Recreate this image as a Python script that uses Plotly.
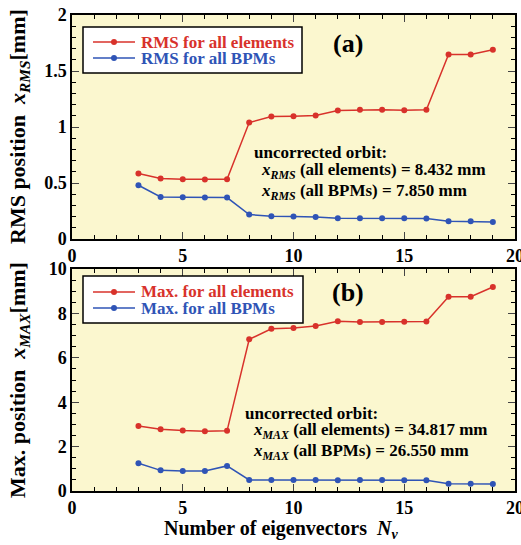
import plotly.graph_objects as go
from plotly.subplots import make_subplots

nv = [3, 4, 5, 6, 7, 8, 9, 10, 11, 12, 13, 14, 15, 16, 17, 18, 19]
rms_elements = [0.584, 0.540, 0.534, 0.532, 0.534, 1.040, 1.094, 1.097, 1.103, 1.148, 1.153, 1.153, 1.150, 1.153, 1.648, 1.648, 1.690]
rms_bpms = [0.480, 0.376, 0.373, 0.370, 0.370, 0.218, 0.203, 0.200, 0.197, 0.185, 0.185, 0.185, 0.185, 0.182, 0.158, 0.158, 0.152]
max_elements = [2.93, 2.78, 2.72, 2.69, 2.71, 6.83, 7.31, 7.34, 7.43, 7.65, 7.61, 7.61, 7.62, 7.64, 8.75, 8.75, 9.19]
max_bpms = [1.25, 0.93, 0.90, 0.90, 1.13, 0.50, 0.50, 0.50, 0.50, 0.48, 0.50, 0.50, 0.48, 0.48, 0.33, 0.33, 0.32]
legend_a = ["RMS for all elements", "RMS for all BPMs"]
legend_b = ["Max. for all elements", "Max. for all BPMs"]

RED = "#d8322b"
BLUE = "#2f54b6"
BG = "#fbf7cf"
FONT = "Times New Roman, Liberation Serif, serif"

fig = make_subplots(rows=2, cols=1, vertical_spacing=0.0)

def add(x, y, name, color, row):
    fig.add_trace(go.Scatter(
        x=x, y=y, mode="lines+markers", name=name, showlegend=False,
        line=dict(color=color, width=1.5),
        marker=dict(color=color, size=6)), row=row, col=1)

add(nv, rms_elements, legend_a[0], RED, 1)
add(nv, rms_bpms, legend_a[1], BLUE, 1)
add(nv, max_elements, legend_b[0], RED, 2)
add(nv, max_bpms, legend_b[1], BLUE, 2)

H_TOP, H_BOT = 15, 54
PH = 545 - H_TOP - H_BOT
PL, PR = 72, 515
def yp(px):
    return (491 - px) / PH
def xp(px):
    return (px - PL) / (PR - PL)

tickfont = dict(family=FONT, size=18, color="black", weight="bold")
common_x = dict(range=[0, 20], dtick=5, tick0=0, ticks="inside", ticklen=7, tickwidth=1.2,
                showline=True, linecolor="black", linewidth=1.5, mirror="ticks",
                showgrid=False, zeroline=False, tickfont=tickfont, ticklabeloverflow="allow",
                automargin=False,
                minor=dict(dtick=1, ticks="inside", ticklen=4, tickwidth=1, tickcolor="black"))
fig.update_xaxes(**common_x)
fig.update_yaxes(ticks="inside", ticklen=7, tickwidth=1.2, showline=True, linecolor="black",
                 linewidth=1.5, mirror="ticks", showgrid=False, zeroline=False, tickfont=tickfont,
                 automargin=False)

fig.update_yaxes(range=[0, 2], dtick=0.5, domain=[yp(239), 1],
                 minor=dict(dtick=0.1, ticks="inside", ticklen=4, tickwidth=1, tickcolor="black"),
                 row=1, col=1)
fig.update_yaxes(range=[0, 10], dtick=2, domain=[0, yp(269)],
                 minor=dict(dtick=0.5, ticks="inside", ticklen=4, tickwidth=1, tickcolor="black"),
                 row=2, col=1)

fig.update_layout(
    width=521, height=545,
    margin=dict(l=PL, r=521 - PR, t=H_TOP, b=H_BOT),
    paper_bgcolor="white", plot_bgcolor=BG,
    showlegend=False,
)

# manual legends (compact like the reference)
legfont = dict(family=FONT, size=17, weight="bold")
def legend_box(x0, y0, x1, y1, names, rows_y):
    fig.add_shape(type="rect", xref="paper", yref="paper", x0=xp(x0), x1=xp(x1),
                  y0=yp(y1), y1=yp(y0), fillcolor="white", line=dict(color="black", width=1.5),
                  layer="above")
    for name, color, py in zip(names, [RED, BLUE], rows_y):
        fig.add_shape(type="line", xref="paper", yref="paper", x0=xp(93), x1=xp(135),
                      y0=yp(py), y1=yp(py), line=dict(color=color, width=1.5), layer="above")
        fig.add_shape(type="circle", xref="paper", yref="paper", xsizemode="pixel",
                      ysizemode="pixel", xanchor=xp(114), yanchor=yp(py), x0=-3, x1=3,
                      y0=-3, y1=3, fillcolor=color, line=dict(color=color, width=0),
                      layer="above")
        fig.add_annotation(text=f"<b>{name}</b>", x=xp(139), y=yp(py), xref="paper",
                           yref="paper", xanchor="left", yanchor="middle", showarrow=False,
                           font=dict(color=color, **legfont))

legend_box(83, 27, 302, 73, legend_a, [42, 58])
legend_box(83, 276, 303, 323, legend_b, [292, 308])

annfont = dict(family=FONT, size=17, color="black", weight="bold")
bigfont = dict(family=FONT, size=26, color="black", weight="bold")
titlefont = dict(family=FONT, size=22, color="black", weight="bold")
anns = [
    ("<b>(a)</b>", 348, 43, "center", bigfont, 0),
    ("<b>(b)</b>", 348, 293, "center", bigfont, 0),
    ("<b>uncorrected orbit:</b>", 252, 152, "left", annfont, 0),
    ("<b><i>x<sub>RMS</sub></i> (all elements) = 8.432 mm</b>", 259, 171, "left", annfont, 0),
    ("<b><i>x<sub>RMS</sub></i> (all BPMs) = 7.850 mm</b>", 259, 192, "left", annfont, 0),
    ("<b>uncorrected orbit:</b>", 243, 413, "left", annfont, 0),
    ("<b><i>x<sub>MAX</sub></i> (all elements) = 34.817 mm</b>", 251, 431, "left", annfont, 0),
    ("<b><i>x<sub>MAX</sub></i> (all BPMs) = 26.550 mm</b>", 251, 452, "left", annfont, 0),
    ("<b>RMS position&nbsp;&nbsp;<i>x<sub>RMS</sub></i>[mm]</b>", 19, 127, "center", titlefont, -90),
    ("<b>Max. position&nbsp;&nbsp;<i>x<sub>MAX</sub></i>[mm]</b>", 19, 380, "center", titlefont, -90),
    ("<b>Number of eigenvectors&nbsp;&nbsp;<i>N<sub>v</sub></i></b>", 281, 529, "center", dict(titlefont, size=20), 0),
]
for text, px, py, anchor, f, ang in anns:
    fig.add_annotation(text=text, x=xp(px), y=yp(py), xref="paper", yref="paper",
                       xanchor=anchor, yanchor="middle", showarrow=False, font=f,
                       textangle=ang)

fig.write_html("out.html")
